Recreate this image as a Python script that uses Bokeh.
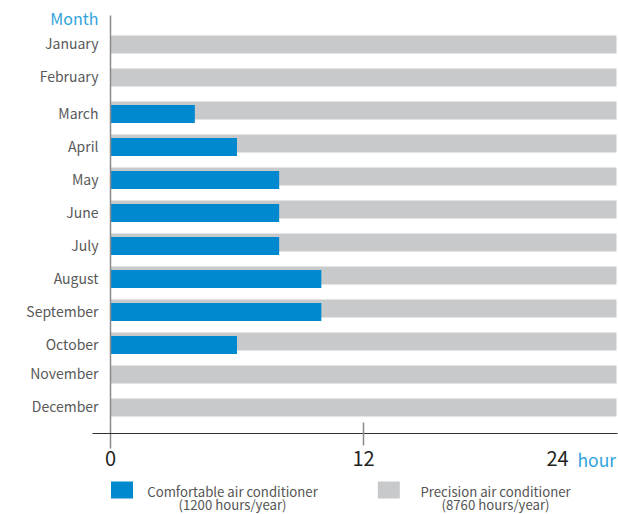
from bokeh.plotting import figure
from bokeh.models import Range1d, ColumnDataSource
from bokeh.core.properties import value
from bokeh.embed import file_html
from bokeh.resources import INLINE

# ---- data ----
months = ["January", "February", "March", "April", "May", "June", "July",
          "August", "September", "October", "November", "December"]
comfortable_hours = [0, 0, 4, 6, 8, 8, 8, 10, 10, 6, 0, 0]
precision_hours = [24, 24, 24, 24, 24, 24, 24, 24, 24, 24, 24, 24]
x_ticks = [0, 12, 24]
x_tick_labels = ["0", "12", "24"]
legend_names = ["Comfortable air conditioner", "Precision air conditioner"]
legend_notes = ["(1200 hours/year)", "(8760 hours/year)"]

# ---- layout helpers (picture pixels -> data) ----
PX_PER_HR = 253.0 / 12.0
ROW_PX = 33.0
X0_PAGE = 110.0
Y0_PAGE = 44.0


def dx(px):
    return (px - X0_PAGE) / PX_PER_HR


def dy(py):
    return (py - Y0_PAGE) / ROW_PX


FONT = value("Noto Sans CJK SC")
BLUE = "#0089cf"
GRAY = "#c8c9cb"
W, H = 618, 514

p = figure(width=W, height=H, output_backend="svg", toolbar_location=None,
           x_range=Range1d(dx(0), dx(W)), y_range=Range1d(dy(H), dy(0)),
           x_axis_location=None, y_axis_location=None, min_border=0)
p.grid.visible = False
p.outline_line_color = None
p.background_fill_color = "white"

rows = list(range(len(months)))
blue_shift = 3.5 / ROW_PX
label_shift = -1.5 / ROW_PX
src = ColumnDataSource(dict(
    y=rows,
    yb=[r + blue_shift for r in rows],
    ylab=[r + label_shift + (blue_shift if c > 0 else 0) for r, c in zip(rows, comfortable_hours)],
    month=months,
    comf=comfortable_hours,
    prec=precision_hours,
))

bar_h = 18.0 / ROW_PX
p.hbar(y="y", left=0, right="prec", height=bar_h, source=src,
       fill_color=GRAY, line_color=None)
p.hbar(y="yb", left=0, right="comf", height=bar_h, source=src,
       fill_color=BLUE, line_color=None)

# month labels
p.text(x=dx(98), y="ylab", text="month", source=src, text_font=FONT,
       text_font_size="14px", text_color="#595959", text_align="right",
       text_baseline="middle")

# axes lines
p.segment(x0=[0], y0=[dy(15)], x1=[0], y1=[dy(448)], line_color="#8a8a8a", line_width=1.5)
p.segment(x0=[dx(92)], y0=[dy(433)], x1=[dx(617)], y1=[dy(433)], line_color="#333333", line_width=1.2)
p.segment(x0=[x_ticks[1]], y0=[dy(422)], x1=[x_ticks[1]], y1=[dy(445)], line_color="#8a8a8a", line_width=1.5)

# tick labels
offsets = [0, 0, -59]
p.text(x=x_ticks, y=[dy(458)] * len(x_ticks), text=x_tick_labels, x_offset=offsets,
       text_font=FONT, text_font_size="20px", text_color="#231f20",
       text_align="center", text_baseline="middle")
p.text(x=[dx(577)], y=[dy(459)], text=["hour"], text_font=FONT, text_font_size="17.5px",
       text_color="#2fa3dc", text_align="left", text_baseline="middle")
p.text(x=[dx(98)], y=[dy(17.5)], text=["Month"], text_font=FONT, text_font_size="16px",
       text_color="#2fa3dc", text_align="right", text_baseline="middle")

# legend
p.rect(x=[dx(121.5), dx(388.3)], y=[dy(489.5)] * 2, width=22, height=17,
       width_units="screen", height_units="screen", fill_color=[BLUE, GRAY], line_color=None)
p.text(x=[dx(232), dx(495)], y=[dy(490.5)] * 2, text=legend_names, text_font=FONT,
       text_font_size="13.2px", text_color="#555555", text_align="center",
       text_baseline="middle")
p.text(x=[dx(232), dx(495)], y=[dy(504)] * 2, text=legend_notes, text_font=FONT,
       text_font_size="13.2px", text_color="#555555", text_align="center",
       text_baseline="middle")

open("out.html", "w").write(file_html(p, INLINE))
